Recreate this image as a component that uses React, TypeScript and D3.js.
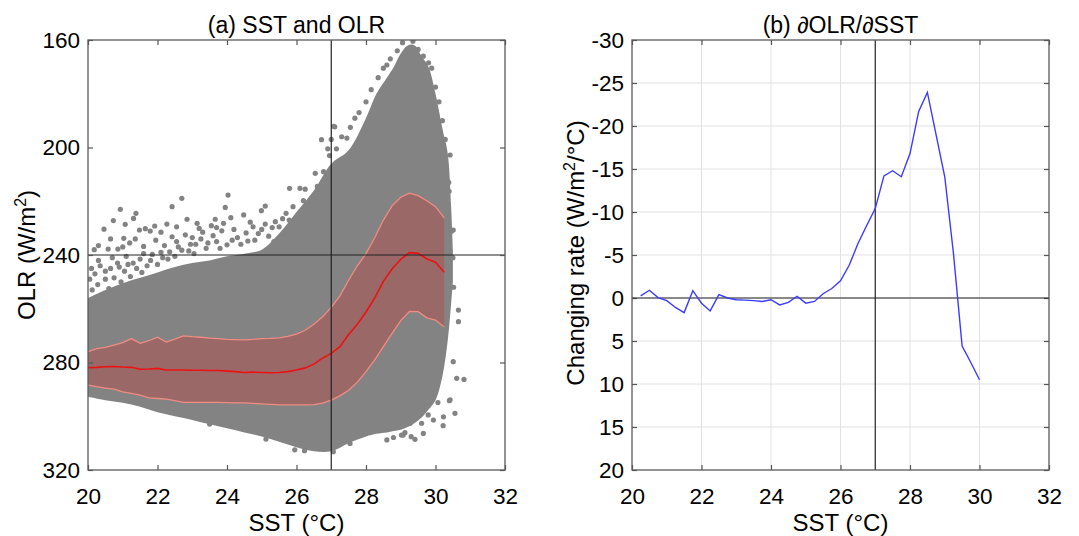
import React, { useEffect, useRef } from 'react';
import * as d3 from 'd3';

// ---- panel (a): binned OLR statistics vs SST ----
const sstBins = [20, 20.25, 20.5, 20.75, 21, 21.25, 21.5, 21.75, 22, 22.25, 22.5, 22.75, 23, 23.25, 23.5, 23.75,
  24, 24.25, 24.5, 24.75, 25, 25.25, 25.5, 25.75, 26, 26.25, 26.5, 26.75, 27, 27.25, 27.5, 27.75,
  28, 28.25, 28.5, 28.75, 29, 29.25, 29.5, 29.75, 30, 30.25];
const olrMean = [281.9, 281.8, 281.6, 281.5, 281.7, 281.8, 282.5, 282.4, 282.2, 282.8, 282.8, 282.8, 282.9, 282.9, 283.0, 283.0,
  283.2, 283.4, 283.7, 283.6, 283.7, 283.8, 283.7, 283.4, 282.8, 282.0, 280.6, 278.4, 276.6, 274.1, 269.6, 265.8,
  261.2, 256.0, 249.8, 245.2, 241.6, 239.1, 239.4, 241.4, 242.7, 246.4];
const olrUpper = [276.0, 274.8, 274.4, 273.5, 272.6, 271.1, 272.9, 271.9, 270.6, 272.4, 271.3, 270.1, 270.4, 270.6, 270.9, 271.1,
  271.4, 271.5, 271.6, 271.4, 271.1, 271.0, 270.8, 270.3, 269.4, 268.0, 265.8, 263.0, 259.5, 255.2, 249.4, 244.0,
  239.5, 233.6, 227.0, 221.7, 218.5, 217.0, 217.9, 219.8, 222.0, 226.2];
const olrLower = [288.4, 289.0, 289.5, 289.9, 290.9, 291.5, 292.1, 293.2, 293.4, 293.6, 294.2, 294.8, 294.8, 294.8, 294.8, 294.8,
  294.9, 295.0, 295.0, 295.2, 295.4, 295.6, 295.8, 295.8, 295.8, 295.8, 295.7, 295.1, 294.0, 292.4, 290.3, 287.3,
  283.4, 279.0, 274.1, 269.2, 264.4, 261.0, 261.1, 263.4, 264.2, 266.8];

// envelope of the dense point cloud
const cloudSst = [20, 20.5, 21, 21.5, 22, 22.5, 23, 23.5, 24, 24.5, 25, 25.5, 26, 26.5, 27, 27.5, 28, 28.3, 28.6, 28.8,
  29, 29.2, 29.4, 29.6, 29.8, 30, 30.2, 30.35, 30.45, 30.5];
const cloudTop = [256, 253, 250.5, 248.5, 246.5, 244.5, 243, 242, 240.5, 239.5, 238, 232, 224, 216, 206, 201, 189, 180, 174, 170,
  165, 162, 162, 166, 170, 180, 193, 202, 222, 238];
const cloudBottom = [292.7, 294, 295, 296.5, 298.5, 300, 301.4, 303, 304.5, 306, 307.5, 309.5, 311.5, 313, 313, 310, 307.5, 306.5, 306, 305.5,
  305, 304, 302.5, 300.5, 297.5, 294, 285, 272, 258, 250];

// scattered points outside the dense cloud [SST, OLR]
const outlierDots = [
  [20.18, 238], [20.46, 230.4], [20.58, 237.8], [20.73, 227.2], [20.86, 237.8], [20.93, 223], [21.03, 233.8], [21.07, 228.6],
  [21.31, 226.4], [21.38, 224.5], [21.36, 234], [21.48, 230.7], [21.65, 230.2], [21.79, 231.1], [21.92, 229.2], [22.27, 228.5],
  [22.42, 222], [22.42, 233.2], [22.7, 218.9], [22.85, 226.7], [23.14, 228.2], [23.2, 230.1], [23.55, 229.1], [23.66, 226.7],
  [23.95, 222.3], [23.9, 228.2], [24.11, 226.1], [24.03, 217.7], [24.48, 225.1], [24.67, 227.8], [24.99, 223.5], [25.1, 221.8],
  [25.1, 228.5], [25.39, 227.6], [25.79, 227], [25.8, 215.2], [26.1, 215.2], [26.25, 215.5], [26.54, 209.6], [26.72, 197.1],
  [26.78, 209], [27.1, 192.3], [27.45, 196.5], [27.68, 189.1], [27.07, 192.1], [28.6, 169.3], [29.89, 170.5], [30.42, 202.8],
  [30.39, 216.3], [30.51, 230.7], [30.46, 231.2],
  [20.1, 245], [20.3, 242], [20.5, 246], [20.7, 241], [20.9, 244.5], [21.1, 240.5], [21.3, 243], [21.6, 239.5], [21.8, 242],
  [22.1, 239], [22.3, 241.5], [22.6, 237], [22.9, 238.5], [23.1, 236], [23.4, 237.5], [23.7, 235], [24.0, 236.2], [24.3, 233.5],
  [24.6, 234.8], [24.9, 232], [25.2, 233], [25.5, 229.5], [25.7, 224.5],
  [20.05, 249], [20.12, 253], [20.2, 247], [20.28, 251], [20.35, 244], [20.42, 255], [20.5, 249], [20.6, 252.5], [20.65, 245],
  [20.75, 248.5], [20.85, 243], [20.95, 250], [21.05, 246], [21.15, 243.5], [21.22, 248], [21.4, 245], [21.5, 241.5], [21.55, 246.5],
  [21.7, 244], [21.85, 239.8], [22.0, 243.5], [22.15, 241], [22.2, 236.5], [22.35, 238.8], [22.5, 240.5], [22.55, 235], [22.7, 238.2],
  [22.8, 232.5], [22.95, 236], [23.05, 239.5], [23.25, 234], [23.3, 231.5], [23.45, 235.5], [23.6, 232.8], [23.8, 237.5], [23.85, 231],
  [24.15, 234.5], [24.2, 230.5], [24.4, 236], [24.55, 231.8], [24.75, 229.5], [24.8, 234.5], [25.0, 230.5], [25.3, 229.8], [25.35, 235],
  [25.6, 226.5], [25.65, 231.5], [25.9, 222], [26.0, 228], [26.2, 219.8], [26.35, 223.5], [26.6, 214.5], [26.7, 218.5], [26.85, 211.5],
  [20.3, 236.5], [20.65, 234], [21.0, 237], [21.2, 235.5], [21.6, 236.8], [21.95, 234.5], [22.1, 231.5], [22.55, 229.5], [23.0, 233.5],
  [23.7, 229.8],
  [27.8, 187], [28.0, 183], [28.15, 178.5], [28.35, 174], [28.5, 170.5], [28.7, 167], [28.9, 164], [29.05, 161], [29.35, 160.5],
  [29.5, 163.5], [29.65, 166], [29.8, 168.5], [30.0, 177.5], [30.1, 183], [30.2, 190], [30.28, 197], [30.3, 208], [30.38, 213],
  [30.5, 241], [30.52, 252], [26.95, 203], [26.9, 200.5], [27.0, 197], [27.15, 200.5], [27.3, 196], [27.55, 192.5],
  [30.66, 260.5], [30.66, 264.8], [30.51, 279.7], [30.61, 285.9], [30.82, 286.3], [30.42, 293.9], [30.56, 298.9], [30.22, 303.5],
  [29.94, 301.4], [29.65, 306.4], [29.41, 308.6], [29.27, 302.6], [29.07, 307], [28.6, 308.8], [28.79, 307.9], [29.12, 306.1],
  [30.23, 300.2], [30.4, 294.2], [30.07, 294.9], [29.79, 299.5], [29.6, 302.6], [29.3, 307.6], [29.02, 307], [27.54, 310.1],
  [27.06, 313.2], [26.23, 312.8], [25.95, 312.5], [25.12, 308.5], [23.5, 302.9]
];

// ---- panel (b): dOLR/dSST ----
const rateSst = [20.25, 20.5, 20.75, 21, 21.25, 21.5, 21.75, 22, 22.25, 22.5, 22.75, 23, 23.25, 23.5, 23.75,
  24, 24.25, 24.5, 24.75, 25, 25.25, 25.5, 25.75, 26, 26.25, 26.5, 26.75, 27, 27.25, 27.5, 27.75,
  28, 28.25, 28.5, 28.75, 29, 29.25, 29.5, 29.75, 30];
const rateValues = [-0.25, -0.9, -0.05, 0.3, 1.1, 1.7, -0.85, 0.6, 1.5, -0.4, 0.0, 0.2, 0.25, 0.3, 0.4,
  0.2, 0.8, 0.5, -0.2, 0.6, 0.4, -0.5, -1.1, -2.0, -3.8, -6.3, -8.4, -10.4, -14.2, -14.8, -14.1,
  -16.8, -21.7, -23.9, -19.0, -14.1, -5.2, 5.6, 7.5, 9.5];

const xTicks = [20, 22, 24, 26, 28, 30, 32];
const olrTicks = [160, 200, 240, 280, 320];
const rateTicks = [-30, -25, -20, -15, -10, -5, 0, 5, 10, 15, 20];

const FONT = "'Liberation Sans', Arial, Helvetica, sans-serif";
const CLOUD = '#838383';

const App = () => {
  const svgRef = useRef(null);

  useEffect(() => {
    const svg = d3.select(svgRef.current);
    svg.selectAll('*').remove();

    const top = 40, bottom = 470;

    // axes box with ticks pointing inward on all four sides
    const drawAxes = (x, y, yTickVals, grid) => {
      const [x0, x1] = x.range();
      const g = svg.append('g').attr('font-family', FONT);

      if (grid) {
        g.append('g')
          .selectAll('line')
          .data(xTicks.slice(1, -1))
          .enter().append('line')
          .attr('x1', d => x(d)).attr('x2', d => x(d))
          .attr('y1', top).attr('y2', bottom)
          .attr('stroke', '#e2e2e2').attr('stroke-width', 1);
        g.append('g')
          .selectAll('line')
          .data(yTickVals.slice(1, -1))
          .enter().append('line')
          .attr('x1', x0).attr('x2', x1)
          .attr('y1', d => y(d)).attr('y2', d => y(d))
          .attr('stroke', '#e2e2e2').attr('stroke-width', 1);
      }

      const styleAxis = sel => {
        sel.select('.domain').remove();
        sel.selectAll('.tick line').attr('stroke', '#555').attr('stroke-width', 1.2);
        sel.selectAll('text').attr('fill', '#000').attr('font-size', 22.5).attr('font-family', FONT);
      };

      g.append('g').attr('transform', `translate(0,${bottom})`)
        .call(d3.axisBottom(x).tickValues(xTicks).tickSize(-5).tickPadding(18).tickFormat(d => String(d)))
        .call(styleAxis);
      g.append('g').attr('transform', `translate(0,${top})`)
        .call(d3.axisTop(x).tickValues(xTicks).tickSize(-5).tickFormat(() => ''))
        .call(styleAxis);
      g.append('g').attr('transform', `translate(${x0},0)`)
        .call(d3.axisLeft(y).tickValues(yTickVals).tickSize(-5).tickPadding(8).tickFormat(d => String(d)))
        .call(styleAxis);
      g.append('g').attr('transform', `translate(${x1},0)`)
        .call(d3.axisRight(y).tickValues(yTickVals).tickSize(-5).tickFormat(() => ''))
        .call(styleAxis);
      return g;
    };

    const drawFrame = x => {
      const [x0, x1] = x.range();
      svg.append('rect')
        .attr('x', x0).attr('y', top)
        .attr('width', x1 - x0).attr('height', bottom - top)
        .attr('fill', 'none').attr('stroke', '#5a5a5a').attr('stroke-width', 1.3);
    };

    // ================= panel (a) =================
    const xL = d3.scaleLinear().domain([20, 32]).range([88, 505]);
    const yL = d3.scaleLinear().domain([160, 320]).range([top, bottom]);

    svg.append('defs').append('clipPath').attr('id', 'clipA')
      .append('rect').attr('x', 88).attr('y', top).attr('width', 505 - 88).attr('height', bottom - top);

    const plotA = svg.append('g').attr('clip-path', 'url(#clipA)');

    const cloudArea = d3.area()
      .x((d, i) => xL(cloudSst[i]))
      .y0((d, i) => yL(cloudBottom[i]))
      .y1((d, i) => yL(cloudTop[i]))
      .curve(d3.curveCatmullRom);
    plotA.append('path')
      .datum(cloudSst)
      .attr('d', cloudArea)
      .attr('fill', CLOUD);

    plotA.append('g')
      .selectAll('circle')
      .data(outlierDots)
      .enter().append('circle')
      .attr('cx', d => xL(d[0]))
      .attr('cy', d => yL(d[1]))
      .attr('r', 2.6)
      .attr('fill', CLOUD);

    const band = d3.area()
      .x((d, i) => xL(sstBins[i]))
      .y0((d, i) => yL(olrLower[i]))
      .y1((d, i) => yL(olrUpper[i]));
    plotA.append('path').datum(sstBins).attr('d', band)
      .attr('fill', 'rgb(255,0,0)').attr('fill-opacity', 0.2);

    const lineOf = vals => d3.line()
      .x((d, i) => xL(sstBins[i]))
      .y((d, i) => yL(vals[i]))(sstBins);

    plotA.append('path').attr('d', lineOf(olrUpper))
      .attr('fill', 'none').attr('stroke', '#f28b82').attr('stroke-width', 1.3);
    plotA.append('path').attr('d', lineOf(olrLower))
      .attr('fill', 'none').attr('stroke', '#f28b82').attr('stroke-width', 1.3);
    plotA.append('path').attr('d', lineOf(olrMean))
      .attr('fill', 'none').attr('stroke', '#ee1111').attr('stroke-width', 1.6);

    // reference lines
    plotA.append('line')
      .attr('x1', xL(27)).attr('x2', xL(27)).attr('y1', top).attr('y2', bottom)
      .attr('stroke', '#222').attr('stroke-width', 1.2);
    plotA.append('line')
      .attr('x1', xL(20)).attr('x2', xL(32)).attr('y1', yL(240)).attr('y2', yL(240))
      .attr('stroke', '#222').attr('stroke-width', 1.2);

    drawAxes(xL, yL, olrTicks, false);
    drawFrame(xL);

    svg.append('text')
      .attr('x', 296.5).attr('y', 33)
      .attr('text-anchor', 'middle')
      .attr('font-family', FONT).attr('font-size', 23)
      .text('(a) SST and OLR');

    svg.append('text')
      .attr('x', 296.5).attr('y', 531)
      .attr('text-anchor', 'middle')
      .attr('font-family', FONT).attr('font-size', 24)
      .text('SST (°C)');

    const yLabA = svg.append('text')
      .attr('transform', 'translate(35,255) rotate(-90)')
      .attr('text-anchor', 'middle')
      .attr('font-family', FONT).attr('font-size', 24);
    yLabA.append('tspan').text('OLR (W/m');
    yLabA.append('tspan').attr('font-size', 16).attr('dy', -9).text('2');
    yLabA.append('tspan').attr('dy', 9).text(')');

    // ================= panel (b) =================
    const xR = d3.scaleLinear().domain([20, 32]).range([632, 1049]);
    const yR = d3.scaleLinear().domain([-30, 20]).range([top, bottom]);

    drawAxes(xR, yR, rateTicks, true);

    svg.append('line')
      .attr('x1', xR(27)).attr('x2', xR(27)).attr('y1', top).attr('y2', bottom)
      .attr('stroke', '#222').attr('stroke-width', 1.2);
    svg.append('line')
      .attr('x1', xR(20)).attr('x2', xR(32)).attr('y1', yR(0)).attr('y2', yR(0))
      .attr('stroke', '#222').attr('stroke-width', 1.2);

    const rateLine = d3.line()
      .x((d, i) => xR(rateSst[i]))
      .y((d, i) => yR(rateValues[i]));
    svg.append('path')
      .datum(rateSst)
      .attr('d', rateLine)
      .attr('fill', 'none')
      .attr('stroke', '#3b3bff')
      .attr('stroke-width', 1.4);

    drawFrame(xR);

    svg.append('text')
      .attr('x', 840.5).attr('y', 33)
      .attr('text-anchor', 'middle')
      .attr('font-family', FONT).attr('font-size', 23)
      .text('(b) \u2202OLR/\u2202SST');

    svg.append('text')
      .attr('x', 840.5).attr('y', 531)
      .attr('text-anchor', 'middle')
      .attr('font-family', FONT).attr('font-size', 24)
      .text('SST (°C)');

    const yLabB = svg.append('text')
      .attr('transform', 'translate(584,253) rotate(-90)')
      .attr('text-anchor', 'middle')
      .attr('font-family', FONT).attr('font-size', 24);
    yLabB.append('tspan').text('Changing rate (W/m');
    yLabB.append('tspan').attr('font-size', 16).attr('dy', -9).text('2');
    yLabB.append('tspan').attr('dy', 9).text('/°C)');
  }, []);

  return (
    <svg
      ref={svgRef}
      width={1079}
      height={536}
      style={{ position: 'absolute', left: 0, top: 0, background: '#fff' }}
    />
  );
};

export default App;
